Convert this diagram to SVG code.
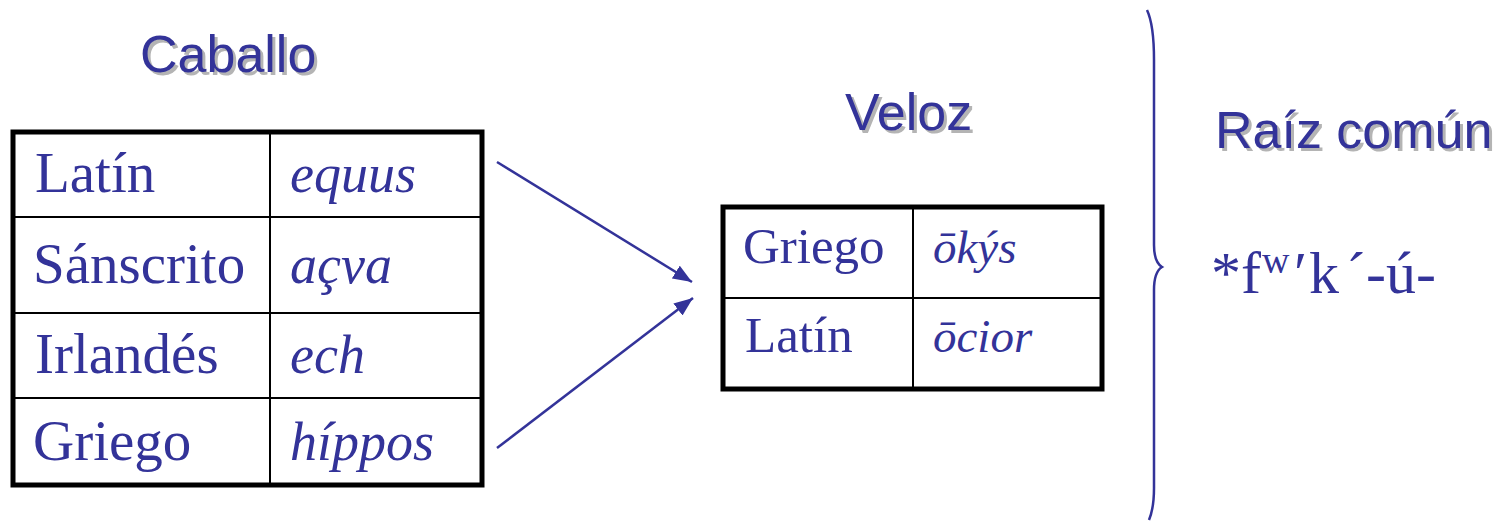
<svg xmlns="http://www.w3.org/2000/svg" width="1502" height="523" viewBox="0 0 1502 523">
<style>
.title{font-family:"Liberation Sans",Arial,sans-serif;font-size:52px;fill:#333399}
.shadow{font-family:"Liberation Sans",Arial,sans-serif;font-size:52px;fill:#b4b4b4}
.cell{font-family:"Liberation Serif","Times New Roman",serif;font-size:57px;fill:#333399}
.cellit{font-family:"Liberation Serif","Times New Roman",serif;font-size:54px;font-style:italic;fill:#333399}
.cell2{font-family:"Liberation Serif","Times New Roman",serif;font-size:51px;fill:#333399}
.cell2it{font-family:"Liberation Serif","Times New Roman",serif;font-size:47px;font-style:italic;fill:#333399}
.root{font-family:"Liberation Serif","Times New Roman",serif;font-size:60px;fill:#333399}
.outer{fill:none;stroke:#000;stroke-width:5}
.inner{stroke:#000;stroke-width:2}
.conn{stroke:#333399;stroke-width:2.5;fill:none}
</style>
<defs>
<marker id="ah" markerWidth="19" markerHeight="15" refX="19" refY="7.5" orient="auto" markerUnits="userSpaceOnUse">
<path d="M0,0 L19,7.5 L0,15 Z" fill="#333399"/>
</marker>
</defs>
<rect width="1502" height="523" fill="#fff"/>

<g id="title-caballo">
<text class="shadow" x="143" y="75">Caballo</text>
<text class="title" x="140" y="72">Caballo</text>
</g>
<g id="title-veloz">
<text class="shadow" x="848" y="133">Veloz</text>
<text class="title" x="845" y="130">Veloz</text>
</g>
<g id="title-raiz">
<text class="shadow" x="1218" y="151">Raíz común</text>
<text class="title" x="1215" y="148">Raíz común</text>
</g>

<g id="table-caballo">
<line class="inner" x1="270" y1="132" x2="270" y2="485"/>
<line class="inner" x1="13" y1="217" x2="482" y2="217"/>
<line class="inner" x1="13" y1="313" x2="482" y2="313"/>
<line class="inner" x1="13" y1="398" x2="482" y2="398"/>
<rect class="outer" x="13" y="132" width="469" height="353"/>
<text class="cell" x="35" y="192">Latín</text>
<text class="cell" x="33" y="283">Sánscrito</text>
<text class="cell" x="35" y="373">Irlandés</text>
<text class="cell" x="33" y="460">Griego</text>
<text class="cellit" x="290" y="192">equus</text>
<text class="cellit" x="290" y="283">açva</text>
<text class="cellit" x="290" y="373">ech</text>
<text class="cellit" x="290" y="460">híppos</text>
</g>

<g id="table-veloz">
<line class="inner" x1="913" y1="207" x2="913" y2="389"/>
<line class="inner" x1="723" y1="298" x2="1102" y2="298"/>
<rect class="outer" x="723" y="207" width="379" height="182"/>
<text class="cell2" x="743" y="263">Griego</text>
<text class="cell2" x="745" y="352">Latín</text>
<text class="cell2it" x="933" y="263">ōkýs</text>
<text class="cell2it" x="933" y="352">ōcior</text>
</g>

<g id="root-form">
<text class="root" y="293"><tspan x="1211">*f</tspan><tspan x="1262" y="273" font-size="38">w</tspan><tspan x="1294" y="293">′</tspan><tspan x="1309">k</tspan><tspan x="1346">´</tspan><tspan x="1366">-ú-</tspan></text>
</g>

<g id="connectors">
<line class="conn" x1="497" y1="162" x2="692" y2="282" marker-end="url(#ah)"/>
<line class="conn" stroke-width="3" x1="497" y1="448" x2="693" y2="298" marker-end="url(#ah)"/>
<path class="conn" stroke-width="3.5" d="M1147,10 Q1154,25 1154,60 L1154,245 Q1154,262 1162,267 Q1154,272 1154,290 L1154,488 Q1154,508 1149,520"/>
</g>
</svg>
